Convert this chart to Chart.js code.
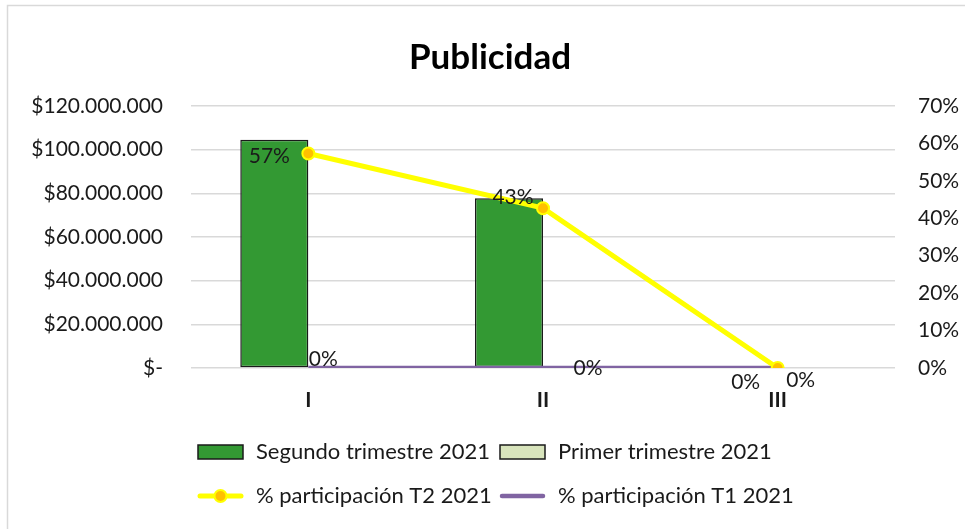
<!DOCTYPE html>
<html>
<head>
<meta charset="utf-8">
<title>Publicidad</title>
<script src="https://cdn.jsdelivr.net/npm/chart.js@4.4.0/dist/chart.umd.min.js"></script>
<style>
  html, body { margin: 0; padding: 0; background: #fff; }
  #wrap { width: 965px; height: 529px; }
</style>
</head>
<body>
<div id="wrap"><canvas id="publicidadChart" width="965" height="529"></canvas></div>
<script>
// datos
const categorias = ["I", "II", "III"];
const segundoTrimestre = [104500000, 77800000, 0];
const primerTrimestre = [0, 0, 0];
const participacionT2 = [0.573, 0.427, 0];
const participacionT1 = [0, 0, 0];
const etiquetasT2 = ["57%", "43%", "0%"];
const etiquetasT1 = ["0%", "0%", "0%"];

Chart.defaults.font.family = "Lato, 'Open Sans', sans-serif";
Chart.defaults.color = "#1a1a1a";

const FONT = "21px Lato, 'Open Sans', sans-serif";

// posicion de las etiquetas respecto a cada punto (como en excel)
const offsetsT2 = [[-39, 3], [-30, -11], [23, 12]];
const offsetsT1 = [[15, -9], [45, 0], [-32, 14]];

function pesos(v) {
  if (v === 0) return "$-";
  return "$" + Math.round(v).toString().replace(/\B(?=(\d{3})+(?!\d))/g, ".");
}

const fondoYTitulo = {
  id: "fondoYTitulo",
  beforeDraw(chart) {
    const ctx = chart.ctx;
    ctx.save();
    ctx.fillStyle = "#fff";
    ctx.fillRect(0, 0, chart.width, chart.height);
    ctx.strokeStyle = "#d9d9d9";
    ctx.lineWidth = 1.5;
    ctx.beginPath();
    ctx.moveTo(7.5, chart.height);
    ctx.lineTo(7.5, 5.5);
    ctx.lineTo(chart.width, 5.5);
    ctx.stroke();
    ctx.fillStyle = "#000";
    ctx.font = "bold 35px Lato, 'Open Sans', sans-serif";
    ctx.textAlign = "center";
    ctx.textBaseline = "alphabetic";
    ctx.fillText("Publicidad", 490, 69);
    ctx.restore();
  }
};

// etiquetas de categoria (I, II, III) debajo del eje, en el pixel de cada categoria
const categoriasEje = {
  id: "categoriasEje",
  afterDraw(chart) {
    const ctx = chart.ctx;
    const x = chart.scales.x;
    ctx.save();
    ctx.font = "bold 21px Lato, 'Open Sans', sans-serif";
    ctx.fillStyle = "#1a1a1a";
    ctx.textAlign = "center";
    ctx.textBaseline = "middle";
    categorias.forEach((c, i) => {
      ctx.fillText(c, x.getPixelForValue(i), chart.chartArea.bottom + 32);
    });
    ctx.restore();
  }
};

const etiquetas = {
  id: "etiquetas",
  afterDatasetsDraw(chart) {
    const ctx = chart.ctx;
    ctx.save();
    ctx.font = FONT;
    ctx.fillStyle = "#1a1a1a";
    ctx.textAlign = "center";
    ctx.textBaseline = "middle";
    [[2, etiquetasT2, offsetsT2], [3, etiquetasT1, offsetsT1]].forEach(([idx, textos, offs]) => {
      chart.getDatasetMeta(idx).data.forEach((pt, j) => {
        ctx.fillText(textos[j], pt.x + offs[j][0], pt.y + offs[j][1]);
      });
    });
    ctx.restore();
  }
};

const leyenda = {
  id: "leyenda",
  afterDraw(chart) {
    const ctx = chart.ctx;
    const ds = chart.data.datasets;
    const cols = [198, 500];
    const rows = [452, 496];
    const items = [
      { d: ds[0], tipo: "caja", c: 0, r: 0 },
      { d: ds[1], tipo: "caja", c: 1, r: 0 },
      { d: ds[2], tipo: "linea", c: 0, r: 1 },
      { d: ds[3], tipo: "linea", c: 1, r: 1 }
    ];
    ctx.save();
    ctx.font = "22px Lato, 'Open Sans', sans-serif";
    ctx.textBaseline = "middle";
    ctx.textAlign = "left";
    items.forEach(it => {
      const x = cols[it.c], y = rows[it.r];
      if (it.tipo === "caja") {
        ctx.fillStyle = it.d.backgroundColor;
        ctx.fillRect(x, y - 7, 45, 14);
        ctx.strokeStyle = "#1a1a1a";
        ctx.lineWidth = 1.5;
        ctx.strokeRect(x, y - 7, 45, 14);
      } else {
        ctx.strokeStyle = it.d.borderColor;
        ctx.lineWidth = it.d.borderWidth;
        ctx.lineCap = "round";
        ctx.beginPath();
        ctx.moveTo(x + 2, y);
        ctx.lineTo(x + 43, y);
        ctx.stroke();
        if (it.d.pointRadius > 0) {
          ctx.beginPath();
          ctx.arc(x + 22.5, y, it.d.pointRadius, 0, Math.PI * 2);
          ctx.fillStyle = it.d.pointBackgroundColor;
          ctx.fill();
          ctx.lineWidth = it.d.pointBorderWidth;
          ctx.strokeStyle = it.d.pointBorderColor;
          ctx.stroke();
        }
      }
      ctx.fillStyle = "#1a1a1a";
      ctx.fillText(it.d.label, x + 58, y);
    });
    ctx.restore();
  }
};

new Chart(document.getElementById("publicidadChart"), {
  type: "bar",
  data: {
    labels: categorias,
    datasets: [
      {
        label: "Segundo trimestre 2021",
        data: segundoTrimestre,
        backgroundColor: "#339933",
        borderColor: "#1a1a1a",
        borderWidth: 1.5,
        borderSkipped: false,
        categoryPercentage: 0.58,
        barPercentage: 1,
        yAxisID: "y",
        order: 3
      },
      {
        label: "Primer trimestre 2021",
        data: primerTrimestre,
        backgroundColor: "#d8e4bc",
        borderColor: "#1a1a1a",
        borderWidth: 0,
        categoryPercentage: 0.58,
        barPercentage: 1,
        yAxisID: "y",
        order: 3
      },
      {
        type: "line",
        label: "% participación T2 2021",
        data: participacionT2,
        borderColor: "#ffff00",
        borderWidth: 5,
        pointRadius: 6,
        pointBackgroundColor: "#ffc000",
        pointBorderColor: "#ffff00",
        pointBorderWidth: 2,
        tension: 0,
        yAxisID: "y1",
        order: 1
      },
      {
        type: "line",
        label: "% participación T1 2021",
        data: participacionT1,
        borderColor: "#8064a2",
        borderWidth: 4.5,
        pointRadius: 0,
        tension: 0,
        yAxisID: "y1",
        order: 2
      }
    ]
  },
  options: {
    responsive: false,
    animation: false,
    layout: { padding: { top: 106, bottom: 121, left: 0, right: 0 } },
    plugins: {
      legend: { display: false },
      title: { display: false },
      tooltip: { enabled: false }
    },
    scales: {
      x: {
        grid: { display: false },
        border: { display: false },
        ticks: { display: false },
        afterFit(s) { s.height = 40; }
      },
      y: {
        position: "left",
        min: 0,
        max: 120000000,
        ticks: {
          stepSize: 20000000,
          font: { size: 21 },
          color: "#1a1a1a",
          padding: 28,
          callback: v => pesos(v)
        },
        grid: { color: "#d9d9d9", lineWidth: 1.5, drawTicks: false },
        border: { display: false },
        afterFit(s) { s.width = 191; }
      },
      y1: {
        position: "right",
        min: 0,
        max: 0.7,
        ticks: {
          stepSize: 0.1,
          font: { size: 21 },
          color: "#1a1a1a",
          padding: 23,
          callback: v => Math.round(v * 100) + "%"
        },
        grid: { display: false, drawTicks: false },
        border: { display: false },
        afterFit(s) { s.width = 70; }
      }
    }
  },
  plugins: [fondoYTitulo, categoriasEje, etiquetas, leyenda]
});
</script>
</body>
</html>
